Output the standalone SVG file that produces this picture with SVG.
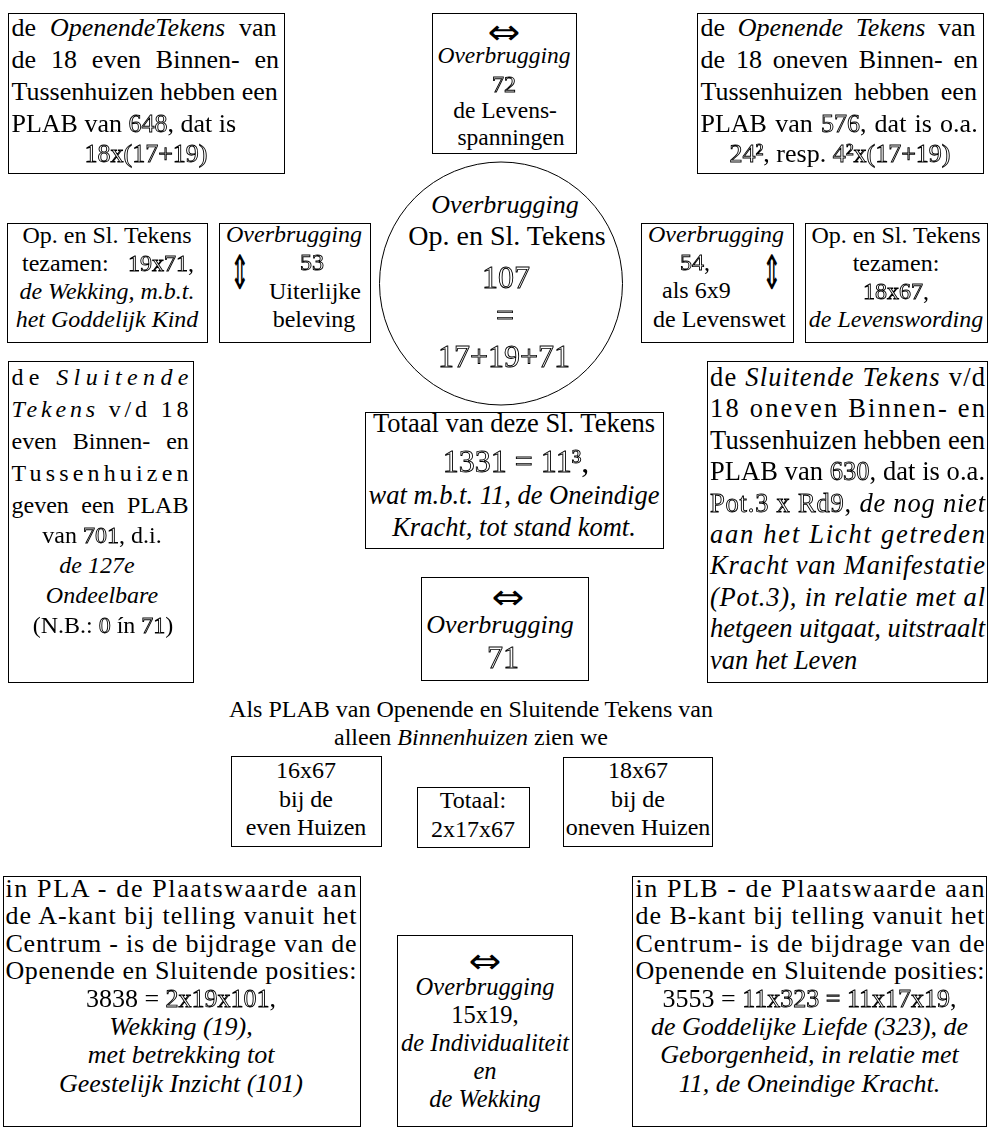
<svg xmlns="http://www.w3.org/2000/svg" width="988" height="1128" viewBox="0 0 988 1128">
<defs>
<filter id="gray" x="-5%" y="-20%" width="110%" height="140%"><feOffset dx="0" dy="0"/></filter>
</defs>
<style>
text { font-family: "Liberation Serif", "Times New Roman", serif; fill: #000; }
.b { fill: #fff; stroke: #000; stroke-width: 1; }
.i { font-style: italic; }
.o { fill: none; stroke: #000; stroke-width: 0.9px; }
.oo { filter: url(#gray); }
.c { text-anchor: middle; }
.ar { font-family: "DejaVu Sans", sans-serif; text-anchor: middle; }
.f26 { font-size: 26px; }
.f24 { font-size: 24px; }
.f265 { font-size: 26.5px; }
.f235 { font-size: 23.5px; }
.f32 { font-size: 32px; }
</style>
<rect width="988" height="1128" fill="#fff"/>
<g id="connectors"/>

<g id="open-even" class="f26">
<rect class="b" x="8.5" y="13.5" width="276" height="160"/>
<text x="11.5" y="36" word-spacing="7.4">de <tspan class="i">OpenendeTekens</tspan> van</text>
<text x="11.5" y="68" word-spacing="8.4">de 18 even Binnen- en</text>
<text x="11.5" y="100">Tussenhuizen hebben een</text>
<text class="oo" x="11.5" y="132">PLAB van <tspan class="o">648</tspan>, dat is</text>
<text class="c o oo" x="146" y="162">18x(17+19)</text>
</g>

<g id="overbrugging-72">
<rect class="b" x="432.5" y="13.5" width="144" height="140"/>
<text class="ar" transform="translate(504 33) scale(1.3 1.15)" y="9.3" font-size="30">⇔</text>
<text class="c i f235" x="504" y="63">Overbrugging</text>
<text class="c o oo f24" x="504" y="92">72</text>
<text class="c f235" x="505" y="118">de Levens-</text>
<text class="c f235" x="511" y="145">spanningen</text>
</g>

<g id="open-oneven" class="f26">
<rect class="b" x="697.5" y="13.5" width="286" height="160"/>
<text x="700.5" y="36" word-spacing="6.1">de <tspan class="i">Openende Tekens</tspan> van</text>
<text x="700.5" y="68" word-spacing="4.4">de 18 oneven Binnen- en</text>
<text x="700.5" y="100" word-spacing="5.1">Tussenhuizen hebben een</text>
<text class="oo" x="700.5" y="132" word-spacing="1.7">PLAB van <tspan class="o">576</tspan>, dat is o.a.</text>
<text class="c oo" x="840" y="162"><tspan class="o">24²</tspan>, resp. <tspan class="o">4²x(17+19)</tspan></text>
</g>

<g id="samen-19x71" class="f24">
<rect class="b" x="7.5" y="223.5" width="200" height="119"/>
<text class="c" x="107" y="243">Op. en Sl. Tekens</text>
<text x="22" y="271">tezamen:</text>
<text class="oo" x="128" y="271"><tspan class="o">19x71</tspan>,</text>
<text class="c i" x="107" y="299">de Wekking, m.b.t.</text>
<text class="c i" x="107" y="327">het Goddelijk Kind</text>
</g>

<g id="overbrugging-53" class="f24">
<rect class="b" x="219.5" y="223.5" width="151" height="119"/>
<text class="c i" x="294" y="242">Overbrugging</text>
<text class="ar" transform="translate(240 277) scale(0.9 1.75)" y="7" font-size="27">⇕</text>
<text class="c o oo" x="312" y="270">53</text>
<text class="c" x="315" y="299">Uiterlijke</text>
<text class="c" x="314" y="327">beleving</text>
</g>

<g id="overbrugging-107">
<circle class="b" cx="501" cy="283.5" r="121.5"/>
<text class="c i f26" x="505" y="213">Overbrugging</text>
<text class="c" x="507" y="245" font-size="28">Op. en Sl. Tekens</text>
<text class="c o oo f32" x="506" y="288">107</text>
<text class="c o oo f32" x="505" y="326">=</text>
<text class="c o oo f32" x="504" y="367">17+19+71</text>
</g>

<g id="overbrugging-54" class="f24">
<rect class="b" x="641.5" y="223.5" width="152" height="119"/>
<text class="c i" x="716" y="242">Overbrugging</text>
<text class="oo" x="680" y="270"><tspan class="o">54</tspan>,</text>
<text x="662" y="298">als 6x9</text>
<text x="653" y="327">de Levenswet</text>
<text class="ar" transform="translate(772 277) scale(0.9 1.75)" y="7" font-size="27">⇕</text>
</g>

<g id="samen-18x67" class="f24">
<rect class="b" x="805.5" y="223.5" width="182" height="119"/>
<text class="c" x="896" y="243">Op. en Sl. Tekens</text>
<text class="c" x="896" y="271">tezamen:</text>
<text class="c oo" x="896" y="299"><tspan class="o">18x67</tspan>,</text>
<text class="c i" x="896" y="327">de Levenswording</text>
</g>

<g id="sluit-even" class="f24">
<rect class="b" x="8.5" y="361.5" width="185" height="321"/>
<text x="11.5" y="385" textLength="177" lengthAdjust="spacing">de <tspan class="i">Sluitende</tspan></text>
<text x="11.5" y="417" textLength="177" lengthAdjust="spacing"><tspan class="i">Tekens</tspan> v/d 18</text>
<text x="11.5" y="449" word-spacing="10">even Binnen- en</text>
<text x="11.5" y="481" textLength="177" lengthAdjust="spacing">Tussenhuizen</text>
<text x="11.5" y="513" word-spacing="6.5">geven een PLAB</text>
<text class="c oo" x="102" y="543">van <tspan class="o">701</tspan>, d.i.</text>
<text class="c i" x="97" y="573">de 127e</text>
<text class="c i" x="102" y="603">Ondeelbare</text>
<text class="c oo" x="103" y="633">(N.B.: <tspan class="o">0</tspan> ín <tspan class="o">71</tspan>)</text>
</g>

<g id="sluit-oneven" class="f265">
<rect class="b" x="707.5" y="361.5" width="280" height="321"/>
<text x="710" y="386" textLength="275" lengthAdjust="spacing">de <tspan class="i">Sluitende Tekens</tspan> v/d</text>
<text x="710" y="417.4" textLength="275" lengthAdjust="spacing">18 oneven Binnen- en</text>
<text x="710" y="448.8" textLength="275" lengthAdjust="spacing">Tussenhuizen hebben een</text>
<text class="oo" x="710" y="480.2" textLength="275" lengthAdjust="spacing">PLAB van <tspan class="o">630</tspan>, dat is o.a.</text>
<text class="oo" x="710" y="511.6" textLength="275" lengthAdjust="spacing"><tspan class="o">Pot.3 x Rd9</tspan>, <tspan class="i">de nog niet</tspan></text>
<text class="i" x="710" y="543" textLength="275" lengthAdjust="spacing">aan het Licht getreden</text>
<text class="i" x="710" y="574.4" textLength="275" lengthAdjust="spacing">Kracht van Manifestatie</text>
<text class="i" x="710" y="605.8" textLength="275" lengthAdjust="spacing">(Pot.3), in relatie met al</text>
<text class="i" x="710" y="637.2" textLength="275" lengthAdjust="spacing">hetgeen uitgaat, uitstraalt</text>
<text class="i" x="710" y="668.6">van het Leven</text>
</g>

<g id="totaal-sl" class="f265">
<rect class="b" x="365.5" y="412.5" width="298" height="136"/>
<text class="c" x="514" y="432">Totaal van deze Sl. Tekens</text>
<text class="c f32 oo" x="516" y="472"><tspan class="o">1331 = 11³</tspan>,</text>
<text class="c i" x="514" y="504">wat m.b.t. 11, de Oneindige</text>
<text class="c i" x="514" y="536">Kracht, tot stand komt.</text>
</g>

<g id="overbrugging-71">
<rect class="b" x="421.5" y="577.5" width="167" height="103"/>
<text class="ar" transform="translate(508 598) scale(1.3 1.15)" y="9.3" font-size="30">⇔</text>
<text class="c i f26" x="500" y="633">Overbrugging</text>
<text class="c o oo f32" x="503" y="668">71</text>
</g>

<g id="binnenhuizen-kop" class="f24">
<text class="c" x="471" y="717">Als PLAB van Openende en Sluitende Tekens van</text>
<text class="c" x="471" y="745">alleen <tspan class="i">Binnenhuizen</tspan> zien we</text>
</g>

<g id="even-16x67" class="f24">
<rect class="b" x="231.5" y="756.5" width="150" height="90"/>
<text class="c" x="306" y="778">16x67</text>
<text class="c" x="306" y="807">bij de</text>
<text class="c" x="306" y="835">even Huizen</text>
</g>

<g id="totaal-2x17x67" class="f24">
<rect class="b" x="417.5" y="787.5" width="112" height="60"/>
<text class="c" x="473" y="808">Totaal:</text>
<text class="c" x="473" y="837">2x17x67</text>
</g>

<g id="oneven-18x67" class="f24">
<rect class="b" x="563.5" y="757.5" width="149" height="89"/>
<text class="c" x="638" y="778">18x67</text>
<text class="c" x="638" y="807">bij de</text>
<text class="c" x="638" y="835">oneven Huizen</text>
</g>

<g id="pla" class="f26">
<rect class="b" x="3.5" y="876.5" width="357" height="250"/>
<text x="5.5" y="897" textLength="351" lengthAdjust="spacing">in PLA - de Plaatswaarde aan</text>
<text x="5.5" y="924" textLength="351" lengthAdjust="spacing">de A-kant bij telling vanuit het</text>
<text x="5.5" y="952" textLength="351" lengthAdjust="spacing">Centrum - is de bijdrage van de</text>
<text x="5.5" y="979" textLength="351" lengthAdjust="spacing">Openende en Sluitende posities:</text>
<text class="c oo" x="181" y="1007">3838 = <tspan class="o">2x19x101</tspan>,</text>
<text class="c i" x="181" y="1035">Wekking (19),</text>
<text class="c i" x="181" y="1063">met betrekking tot</text>
<text class="c i" x="181" y="1092">Geestelijk Inzicht (101)</text>
</g>

<g id="overbrugging-15x19" font-size="24.5">
<rect class="b" x="397.5" y="935.5" width="175" height="191"/>
<text class="ar" transform="translate(485 962) scale(1.3 1.15)" y="9.3" font-size="30">⇔</text>
<text class="c i" x="485" y="995">Overbrugging</text>
<text class="c" x="485" y="1023">15x19,</text>
<text class="c i" x="485" y="1051">de Individualiteit</text>
<text class="c i" x="485" y="1079">en</text>
<text class="c i" x="485" y="1107">de Wekking</text>
</g>

<g id="plb" class="f26">
<rect class="b" x="632.5" y="876.5" width="354" height="250"/>
<text x="635.5" y="897" textLength="349" lengthAdjust="spacing">in PLB - de Plaatswaarde aan</text>
<text x="635.5" y="924" textLength="349" lengthAdjust="spacing">de B-kant bij telling vanuit het</text>
<text x="635.5" y="952" textLength="349" lengthAdjust="spacing">Centrum- is de bijdrage van de</text>
<text x="635.5" y="979" textLength="349" lengthAdjust="spacing">Openende en Sluitende posities:</text>
<text class="c oo" x="809.5" y="1007">3553 = <tspan class="o">11x323 = 11x17x19</tspan>,</text>
<text class="c i" x="809.5" y="1035">de Goddelijke Liefde (323), de</text>
<text class="c i" x="809.5" y="1063">Geborgenheid, in relatie met</text>
<text class="c i" x="809.5" y="1092">11, de Oneindige Kracht.</text>
</g>
</svg>
